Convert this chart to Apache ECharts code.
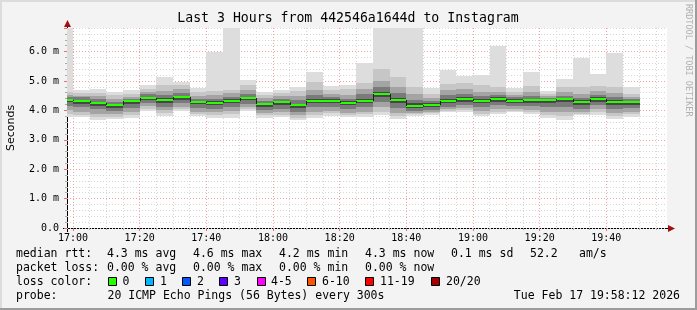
<!DOCTYPE html>
<html><head><meta charset="utf-8">
<script src="https://cdn.jsdelivr.net/npm/echarts@6/dist/echarts.min.js"></script>
<style>html,body{margin:0;padding:0;background:#f3f3f3}#c{width:697px;height:310px}</style>
</head><body><div id="c"></div>
<script>
// ---- data (5-minute steps, value = end of step) ----
const times = ['17:00','17:05','17:10','17:15','17:20','17:25','17:30','17:35','17:40','17:45','17:50','17:55',
  '18:00','18:05','18:10','18:15','18:20','18:25','18:30','18:35','18:40','18:45','18:50','18:55',
  '19:00','19:05','19:10','19:15','19:20','19:25','19:30','19:35','19:40','19:45','19:50'];
const median = [4.35,4.31,4.25,4.17,4.31,4.42,4.35,4.45,4.28,4.25,4.32,4.41,4.20,4.28,4.17,4.32,4.32,4.25,4.32,4.55,4.34,4.16,4.18,4.32,4.38,4.32,4.38,4.32,4.34,4.34,4.38,4.28,4.38,4.28,4.28];
const pingMax = [6.80,4.68,4.71,4.64,4.68,4.87,5.12,4.96,4.76,6.00,6.80,5.02,4.61,4.68,4.81,5.29,4.82,4.86,5.60,6.80,6.80,6.80,4.77,5.38,5.17,5.19,6.20,4.77,5.30,4.65,5.08,5.77,5.22,5.94,4.79];
const pingMin = [3.77,3.77,3.66,3.71,3.75,3.98,3.82,3.98,3.80,3.75,3.75,3.98,3.75,3.77,3.66,3.75,3.82,3.77,3.77,3.83,3.69,3.80,3.85,3.94,3.94,3.80,3.89,3.94,3.89,3.74,3.66,3.83,3.85,3.72,3.77];
const upper2 = [4.62,4.58,4.60,4.52,4.56,4.74,4.86,4.85,4.62,4.66,4.70,4.86,4.52,4.58,4.66,4.96,4.70,4.72,4.94,5.42,5.13,4.80,4.55,4.90,4.92,4.85,4.80,4.64,4.82,4.56,4.78,4.78,4.82,4.80,4.55];
const upper3 = [4.52,4.50,4.48,4.40,4.47,4.64,4.66,4.72,4.48,4.52,4.58,4.70,4.42,4.48,4.50,4.70,4.56,4.52,4.72,5.00,4.80,4.55,4.42,4.68,4.72,4.62,4.62,4.52,4.62,4.48,4.62,4.56,4.66,4.58,4.44];
const upper4 = [4.46,4.44,4.38,4.30,4.40,4.55,4.52,4.60,4.40,4.40,4.46,4.56,4.33,4.39,4.34,4.52,4.46,4.40,4.55,4.78,4.58,4.36,4.32,4.52,4.56,4.48,4.52,4.44,4.50,4.42,4.50,4.42,4.52,4.44,4.38];
const upper5 = [4.40,4.36,4.30,4.22,4.35,4.47,4.42,4.50,4.33,4.31,4.38,4.47,4.25,4.33,4.23,4.40,4.38,4.31,4.40,4.63,4.42,4.24,4.24,4.40,4.46,4.38,4.44,4.37,4.40,4.38,4.43,4.34,4.44,4.34,4.33];
const lower5 = [4.27,4.22,4.16,4.08,4.22,4.34,4.26,4.36,4.20,4.17,4.24,4.34,4.12,4.19,4.08,4.24,4.24,4.17,4.24,4.46,4.25,4.08,4.10,4.24,4.30,4.24,4.30,4.24,4.26,4.24,4.28,4.18,4.30,4.18,4.18];
const lower4 = [4.16,4.10,4.04,3.98,4.08,4.24,4.12,4.24,4.08,4.06,4.12,4.22,4.02,4.06,3.96,4.10,4.12,4.04,4.10,4.30,4.08,3.98,4.02,4.12,4.18,4.10,4.18,4.14,4.14,4.10,4.12,4.06,4.18,4.04,4.08];
const lower3 = [4.02,3.95,3.88,3.86,3.94,4.14,4.00,4.12,3.96,3.94,3.98,4.12,3.92,3.94,3.84,3.96,3.99,3.92,3.96,4.12,3.92,3.90,3.95,4.04,4.08,3.98,4.06,4.05,4.02,3.96,3.96,3.96,4.06,3.90,3.96];
const lower2 = [3.88,3.84,3.76,3.78,3.84,4.05,3.90,4.04,3.88,3.84,3.86,4.04,3.84,3.85,3.74,3.85,3.90,3.84,3.86,3.96,3.80,3.86,3.90,3.98,4.00,3.88,3.96,3.98,3.94,3.84,3.80,3.88,3.96,3.80,3.86];

// ---- ticks / labels ----
const xTickLabels = ['17:00','17:20','17:40','18:00','18:20','18:40','19:00','19:20','19:40'];
const yTickLabels = ['0.0','1.0 m','2.0 m','3.0 m','4.0 m','5.0 m','6.0 m'];
const endTime = '19:58:12';
const spanMinutes = 180;
const stepMinutes = 5;
const yMax = 6.8;

const lossLabels = ['0','1','2','3','4-5','6-10','11-19','20/20'];
const lossColors = ['#26ff00','#00b8ff','#0059ff','#5e00ff','#ff00ff','#ff5500','#ff0000','#a10000'];

// ---- helpers ----
const toMin = s => { const p = s.split(':').map(Number); return p[0]*60 + p[1] + (p[2]||0)/60; };
const xMax = toMin(endTime);
const xMin = xMax - spanMinutes;
const majorX = xTickLabels.map(toMin);
const minorX = [];
for (let t = Math.ceil(xMin/stepMinutes)*stepMinutes; t <= xMax; t += stepMinutes) minorX.push(t);

const mono = '"DejaVu Sans Mono", monospace';
const shades = ['#dddddd','#c6c6c6','#a4a4a4','#7a7a7a','#474747'];

const smokeData = times.map((t,i) => [Math.max(toMin(t)-stepMinutes, xMin), toMin(t),
  pingMin[i], lower2[i], lower3[i], lower4[i], lower5[i], upper5[i], upper4[i], upper3[i], upper2[i], pingMax[i]]);
const medData = times.map((t,i) => [Math.max(toMin(t)-stepMinutes, xMin), toMin(t), median[i], i>0 ? median[i-1] : median[i]]);

const chart = echarts.init(document.getElementById('c'), null, {renderer:'canvas'});

const gfx = [];
function txt(x, y, s, align) {
  gfx.push({type:'text', x, y, silent:true,
    style:{text:s, fill:'#000', font:'11.5px ' + mono, textVerticalAlign:'middle', textAlign:align || 'left'}});
}
// title
gfx.push({type:'text', x:348, y:19, silent:true, style:{text:'Last 3 Hours from 442546a1644d to Instagram',
  fill:'#000', font:'13.2px ' + mono, textAlign:'center', textVerticalAlign:'middle'}});
// legend rows
const r1 = 254, r2 = 268, r3 = 282, r4 = 296;
txt(16, r1, 'median rtt:');
[['4.3 ms avg',107],['4.6 ms max',193],['4.2 ms min',279],['4.3 ms now',365],['0.1 ms sd',451],['52.2',530],['am/s',579]].forEach(a=>txt(a[1], r1, a[0]));
txt(16, r2, 'packet loss:');
[['0.00 % avg',107],['0.00 % max',193],['0.00 % min',279],['0.00 % now',365]].forEach(a=>txt(a[1], r2, a[0]));
txt(16, r3, 'loss color:');
const boxX = [108,145,182,219,257,307,365,431];
const lblX = [122.5,160,197,234,271,322,380,446];
lossLabels.forEach((l,i) => {
  gfx.push({type:'rect', silent:true, shape:{x:boxX[i]+0.5, y:r3-4.5, width:8, height:8}, style:{fill:lossColors[i], stroke:'#000', lineWidth:1}});
  txt(lblX[i], r3, l);
});
txt(16, r4, 'probe:');
txt(107.5, r4, '20 ICMP Echo Pings (56 Bytes) every 300s');
txt(680, r4, 'Tue Feb 17 19:58:12 2026', 'right');
// watermark
gfx.push({type:'text', x:688, y:4, rotation:-Math.PI/2, silent:true,
  style:{text:'RRDTOOL / TOBI OETIKER', fill:'#b0b0b0', font:'8.5px ' + mono, textAlign:'left', textVerticalAlign:'middle'}});
// axis extensions and arrows
gfx.push({type:'line', silent:true, shape:{x1:67.5, y1:232, x2:67.5, y2:24}, style:{stroke:'#000', lineWidth:1}});
gfx.push({type:'line', silent:true, shape:{x1:63, y1:228.5, x2:671, y2:228.5}, style:{stroke:'#000', lineWidth:1}});
gfx.push({type:'polygon', silent:true, shape:{points:[[67.5,20],[64,27],[71,27]]}, style:{fill:'#a01010'}});
gfx.push({type:'polygon', silent:true, shape:{points:[[675,228.5],[668,225],[668,232]]}, style:{fill:'#a01010'}});
// frame
gfx.push({type:'rect', silent:true, shape:{x:0, y:0, width:697, height:2}, style:{fill:'#dcdcdc'}});
gfx.push({type:'rect', silent:true, shape:{x:0, y:0, width:2, height:310}, style:{fill:'#dcdcdc'}});
gfx.push({type:'rect', silent:true, shape:{x:0, y:308, width:697, height:2}, style:{fill:'#9c9c9c'}});
gfx.push({type:'rect', silent:true, shape:{x:695, y:0, width:2, height:310}, style:{fill:'#9c9c9c'}});

const option = {
  animation:false,
  backgroundColor:'#f3f3f3',
  grid:{left:67, top:28, width:600, height:200, show:true, backgroundColor:'#ffffff', borderWidth:0,
    containLabel:false, outerBoundsMode:'none'},
  xAxis:[
    {type:'value', min:xMin, max:xMax, position:'bottom',
      axisLine:{show:false}, axisLabel:{show:false},
      axisTick:{show:true, customValues:minorX, length:2, inside:false, lineStyle:{color:'#aaaaaa'}},
      splitLine:{show:true, lineStyle:{color:'#d6d6d6', width:1, type:[1,2]}}},
    {type:'value', min:xMin, max:xMax, position:'bottom',
      axisLine:{show:false},
      axisTick:{show:true, customValues:majorX, length:3, lineStyle:{color:'#e07070'}},
      axisLabel:{show:true, customValues:majorX, margin:5, color:'#000', fontFamily:mono, fontSize:10,
        formatter: v => { const i = majorX.findIndex(m => Math.abs(m - v) < 1e-6); return i >= 0 ? xTickLabels[i] : ''; }},
      splitLine:{show:true, lineStyle:{color:'#f2a0a0', width:1, type:[1,2]}}}
  ],
  yAxis:[
    {type:'value', min:0, max:yMax, interval:0.2, position:'left',
      axisLine:{show:false}, axisLabel:{show:false},
      axisTick:{show:true, length:2, lineStyle:{color:'#aaaaaa'}},
      splitLine:{show:true, lineStyle:{color:'#d6d6d6', width:1, type:[1,2]}}},
    {type:'value', min:0, max:yMax, interval:1, position:'left',
      axisLine:{show:false},
      axisTick:{show:true, length:3, lineStyle:{color:'#e07070'}},
      axisLabel:{show:true, margin:8, color:'#000', fontFamily:mono, fontSize:10,
        formatter: v => { const i = Math.round(v); return Math.abs(v - i) < 1e-6 && i < yTickLabels.length ? yTickLabels[i] : ''; }},
      splitLine:{show:true, showMinLine:false, showMaxLine:false, lineStyle:{color:'#f2a0a0', width:1, type:[1,2]}},
      name:'Seconds', nameLocation:'middle', nameGap:50,
      nameTextStyle:{fontFamily:'"DejaVu Sans", sans-serif', fontSize:11, color:'#000'}}
  ],
  series:[
    {type:'custom', xAxisIndex:0, yAxisIndex:0, data:smokeData, silent:true,
      encode:{x:[0,1], y:[2,3,4,5,6,7,8,9,10,11]},
      renderItem:(params, api) => {
        const x0 = Math.round(api.coord([api.value(0), 0])[0]);
        const x1 = Math.round(api.coord([api.value(1), 0])[0]);
        const ch = [];
        for (let l = 0; l < 5; l++) {
          const y0 = Math.round(api.coord([0, api.value(11 - l)])[1]);
          const y1 = Math.round(api.coord([0, api.value(2 + l)])[1]);
          ch.push({type:'rect', shape:{x:x0, y:y0, width:x1 - x0, height:y1 - y0}, style:{fill:shades[l]}});
        }
        return {type:'group', children:ch};
      }},
    {type:'custom', xAxisIndex:0, yAxisIndex:0, data:medData, silent:true,
      encode:{x:[0,1], y:[2,3]},
      renderItem:(params, api) => {
        const x0 = Math.round(api.coord([api.value(0), 0])[0]);
        const x1 = Math.round(api.coord([api.value(1), 0])[0]);
        const py = Math.round(api.coord([0, api.value(2)])[1]);
        const pp = Math.round(api.coord([0, api.value(3)])[1]);
        const ch = [];
        ch.push({type:'rect', shape:{x:x0, y:py - 1, width:x1 - x0, height:2}, style:{fill:'#26ff00'}});
        if (params.dataIndex > 0 && pp !== py) {
          ch.push({type:'line', shape:{x1:x0 + 0.5, y1:pp, x2:x0 + 0.5, y2:py}, style:{stroke:'#202020', lineWidth:1}});
        }
        return {type:'group', children:ch};
      }}
  ],
  graphic: gfx
};
chart.setOption(option);
</script></body></html>
